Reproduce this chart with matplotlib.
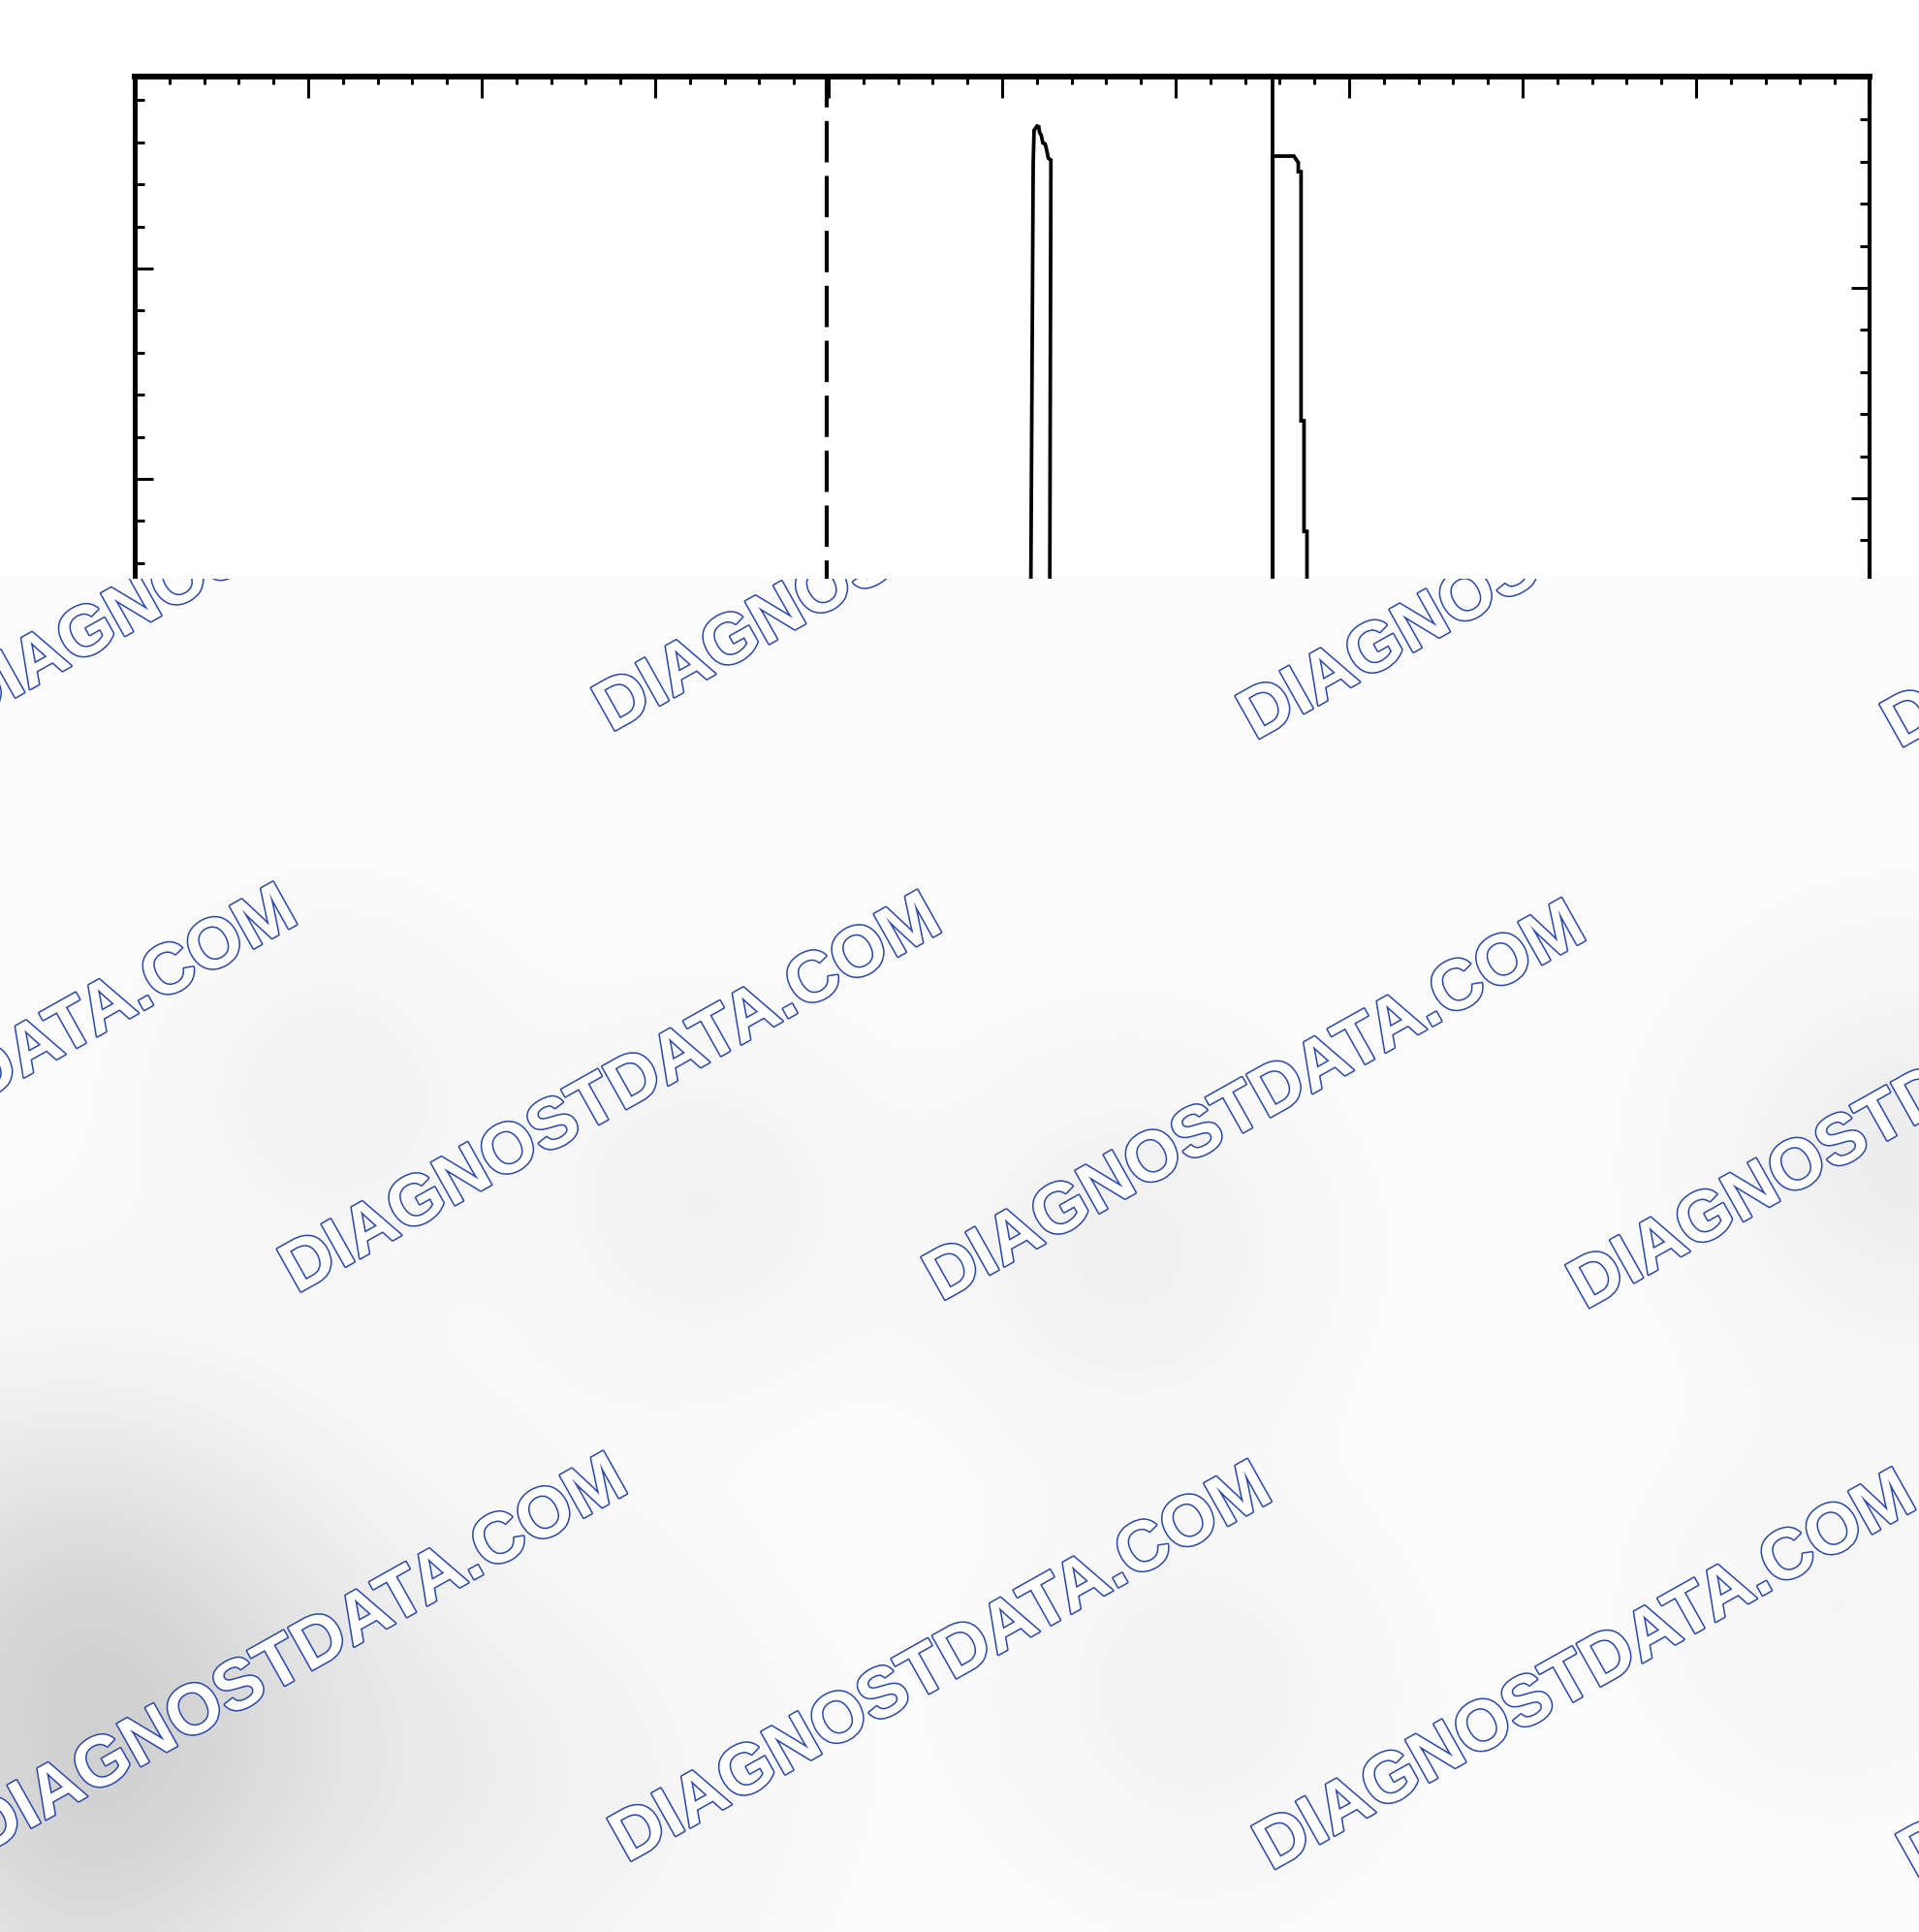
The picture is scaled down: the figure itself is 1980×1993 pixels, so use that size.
import numpy as np
import matplotlib
matplotlib.use("Agg")
import matplotlib.pyplot as plt
import matplotlib.patheffects as pe

plt.rcParams['lines.scale_dashes'] = False
plt.rcParams['font.family'] = ['Liberation Sans', 'DejaVu Sans']

# ---- chart data ----
x_limits = (0.0, 10.0)
y_limits = (20.0, 44.56)          # left scale
y_limits_right = (20.463, 45.023)  # right scale sits ~20 px lower on the scan

dashed_marker_x = 3.99
solid_marker_x = 6.56

peak1_x = [5.162, 5.179, 5.184, 5.201, 5.211, 5.216, 5.225, 5.235, 5.248,
           5.257, 5.266, 5.281, 5.273]
peak1_y = [30.0, 42.50, 43.28, 43.385, 43.37, 43.23, 43.17, 42.98, 42.96,
           42.81, 42.62, 42.58, 30.0]

peak2_x = [6.56, 6.56, 6.682, 6.693, 6.707, 6.707, 6.723, 6.723, 6.740,
           6.740, 6.757, 6.757]
peak2_y = [30.0, 42.67, 42.67, 42.60, 42.52, 42.30, 42.30, 36.38, 36.38,
           33.75, 33.75, 30.0]

# ---- watermark overlay ----
wm_text = "DIAGNOSTDATA.COM"
wm_color = "#2a47ab"
wm_base = (971.0, 1343.0)   # baseline start of one label, pixels
wm_col = (664.7, 8.3)
wm_row = (340.6, 587.2)
wm_angle = 29.3
wm_size = 52.5

# soft grey shading blobs: (cx, cy, sigma, depth) in pixels
blobs = [
    (150, 1790, 200, 32),
    (20, 1640, 150, 14),
    (40, 1970, 140, 12),
    (340, 1130, 110, 10),
    (720, 1240, 110, 11),
    (1165, 1290, 120, 12),
    (1975, 1200, 130, 15),
    (1235, 1750, 120, 10),
    (560, 1850, 160, 8),
    (1900, 1660, 120, 6),
]

W, H = 1980, 1993
overlay_top = 596.5
ax_top_px, ax_bot_px = 79.0, 1145.0
ax_left_px, ax_right_px = 139.0, 1929.0

fig = plt.figure(figsize=(W / 100, H / 100), dpi=100)
fig.patch.set_facecolor('white')

ax = fig.add_axes([ax_left_px / W, 1 - ax_bot_px / H,
                   (ax_right_px - ax_left_px) / W, (ax_bot_px - ax_top_px) / H])
ax.set_xlim(*x_limits)
ax.set_ylim(*y_limits)

ax.plot(peak1_x, peak1_y, color='black', lw=2.7, solid_joinstyle='miter')
ax.plot(peak2_x, peak2_y, color='black', lw=2.7, solid_joinstyle='miter')
ax.plot([solid_marker_x, solid_marker_x], [y_limits[1], y_limits[0]],
        color='black', lw=2.7)
ax.plot([dashed_marker_x, dashed_marker_x], [y_limits[1], y_limits[0]],
        color='black', lw=3.0, linestyle=(7.8, (30.7, 10.1)))

ax.spines['top'].set_linewidth(4.3)
ax.spines['left'].set_linewidth(3.6)
ax.spines['right'].set_linewidth(3.0)
ax.spines['bottom'].set_linewidth(3.0)

ax.xaxis.tick_top()
ax.set_xticks(np.arange(0, 10.01, 1.0))
ax.set_xticks(np.arange(0, 10.01, 0.2), minor=True)
ax.set_yticks(np.arange(20, 45, 5))
ax.set_yticks(np.arange(20, 45, 1), minor=True)
ax.tick_params(axis='x', which='major', direction='in', length=16, width=2.2,
               labeltop=False, labelbottom=False)
ax.tick_params(axis='x', which='minor', direction='in', length=6, width=2.2)
ax.tick_params(axis='y', which='major', direction='in', length=14, width=2.2,
               labelleft=False)
ax.tick_params(axis='y', which='minor', direction='in', length=7, width=2.2)

axr = ax.twinx()
axr.set_ylim(*y_limits_right)
axr.set_yticks(np.arange(25, 46, 5))
axr.set_yticks(np.arange(21, 46, 1), minor=True)
axr.tick_params(axis='y', which='major', direction='in', length=14, width=2.2,
                labelright=False)
axr.tick_params(axis='y', which='minor', direction='in', length=7, width=2.2)
for s in axr.spines.values():
    s.set_visible(False)

# ---- overlay panel covering the lower part ----
ov = fig.add_axes([0, 0, 1, (H - overlay_top) / H], zorder=10)
ov.set_xlim(0, W)
ov.set_ylim(H, overlay_top)
ov.set_axis_off()

gx = np.linspace(0, W, 200)
gy = np.linspace(overlay_top, H, 141)
XX, YY = np.meshgrid(gx, gy)
shade = np.full(XX.shape, 252.0)
for cx, cy, s, d in blobs:
    shade -= d * np.exp(-((XX - cx) ** 2 + (YY - cy) ** 2) / (2 * s * s))
rgb = np.dstack([shade, shade, shade + 1]).clip(0, 255) / 255.0
ov.imshow(rgb, extent=[0, W, H, overlay_top], interpolation='bilinear',
          aspect='auto', zorder=0)

for j in range(-2, 2):
    for i in range(-3, 3):
        x0 = wm_base[0] + i * wm_col[0] + j * wm_row[0]
        y0 = wm_base[1] + i * wm_col[1] + j * wm_row[1]
        t = ov.text(x0, y0, wm_text, fontsize=wm_size, fontweight='bold',
                    color='white', rotation=wm_angle, rotation_mode='anchor',
                    ha='left', va='baseline', clip_on=True, zorder=2)
        t.set_path_effects([pe.Stroke(linewidth=2.2, foreground=wm_color),
                            pe.Normal()])

fig.savefig('out.png', dpi=100, facecolor='white')
